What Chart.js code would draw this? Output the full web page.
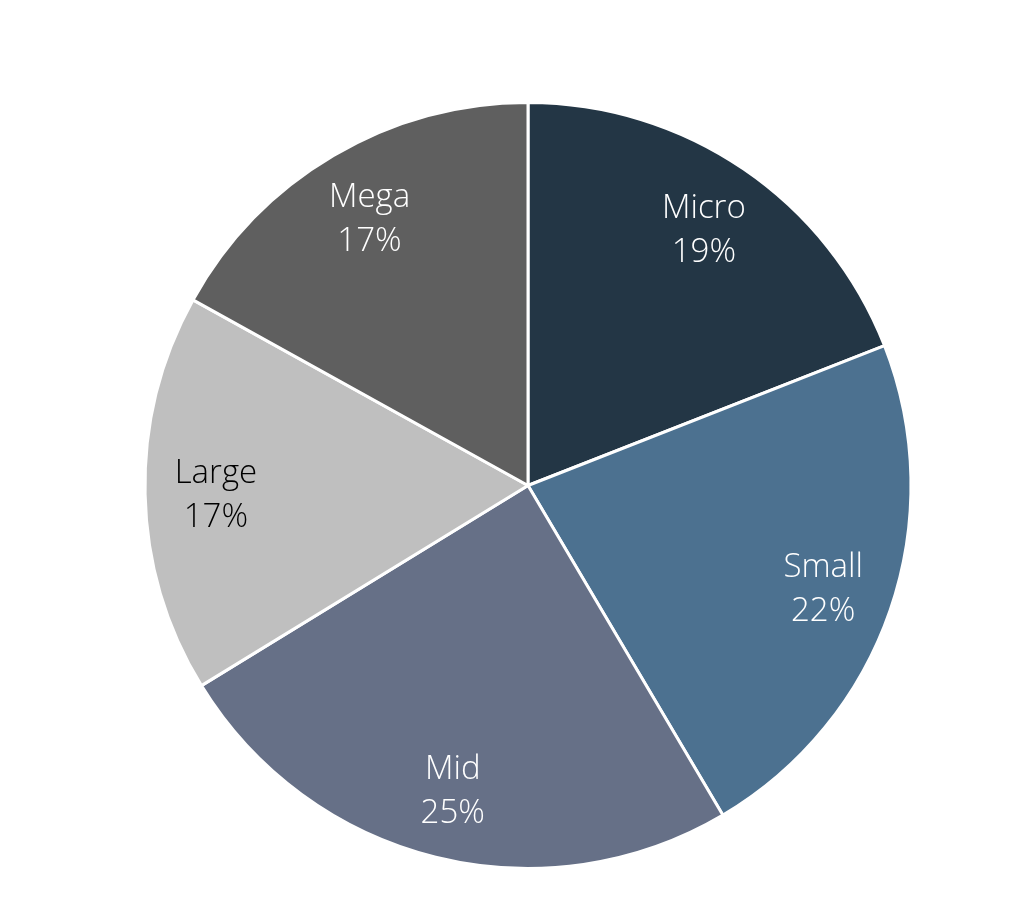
<!DOCTYPE html>
<html>
<head>
<meta charset="utf-8">
<script src="https://cdn.jsdelivr.net/npm/chart.js@4"></script>
<style>
  html, body { margin: 0; padding: 0; background: #ffffff; }
  #wrap { width: 1024px; height: 905px; position: relative; }
</style>
</head>
<body>
<div id="wrap"><canvas id="graphic"></canvas></div>
<script>
var categories = ['Micro', 'Small', 'Mid', 'Large', 'Mega'];
var shares = [19.05, 22.45, 24.75, 16.8, 16.95];
var sliceColors = ['#233645', '#4c7190', '#667087', '#bfbfbf', '#5f5f5f'];
var labelColors = ['#ffffff', '#ffffff', '#ffffff', '#000000', '#ffffff'];

// draws "Name\nNN%" inside each slice
var sliceLabels = {
    id: 'sliceLabels',
    afterDatasetsDraw: function (chart) {
        var ctx = chart.ctx;
        var meta = chart.getDatasetMeta(0);
        var data = chart.data.datasets[0].data;
        ctx.save();
        ctx.font = '300 33px "Open Sans"';
        ctx.textAlign = 'center';
        ctx.textBaseline = 'middle';
        meta.data.forEach(function (arc, i) {
            var mid = (arc.startAngle + arc.endAngle) / 2;
            var r = arc.outerRadius * 0.815;
            var x = arc.x + Math.cos(mid) * r;
            var y = arc.y + Math.sin(mid) * r + 3;
            ctx.fillStyle = labelColors[i];
            ctx.fillText(chart.data.labels[i], x, y - 22);
            ctx.fillText(Math.round(data[i]) + '%', x, y + 22);
        });
        ctx.restore();
    }
};

var ctx = document.getElementById('graphic').getContext('2d');

var graphic = new Chart(ctx, {
    type: 'pie',
    data: {
        labels: categories,
        datasets: [{
            data: shares,
            backgroundColor: sliceColors,
            borderColor: '#ffffff',
            borderWidth: 3
        }]
    },
    options: {
        responsive: true,
        maintainAspectRatio: false,
        animation: false,
        layout: {
            padding: { top: 101, bottom: 35, left: 32, right: 0 }
        },
        plugins: {
            legend: { display: false },
            tooltip: { enabled: false }
        }
    },
    plugins: [sliceLabels]
});
</script>
</body>
</html>
